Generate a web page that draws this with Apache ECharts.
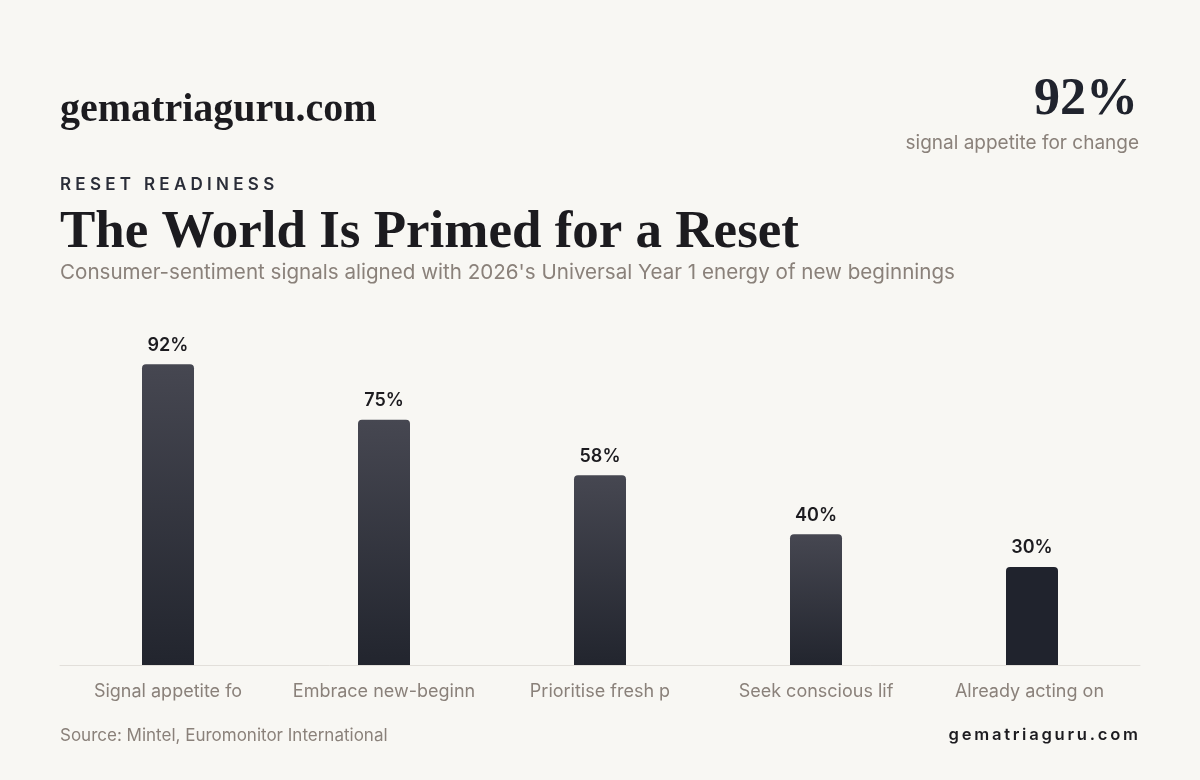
<!DOCTYPE html>
<html>
<head>
<meta charset="utf-8">
<script src="https://cdn.jsdelivr.net/npm/echarts@6/dist/echarts.min.js"></script>
<style>
  html, body { margin: 0; padding: 0; background: #f8f7f3; }
  #chart { width: 1200px; height: 780px; }
</style>
</head>
<body>
<div id="chart"></div>
<script>
// data
var categories = [
  'Signal appetite for change',
  'Embrace new-beginnings mindset',
  'Prioritise fresh perspectives',
  'Seek conscious lifestyle shifts',
  'Already acting on resets'
];
var shares = [92, 75, 58, 40, 30];

var SANS = 'Inter, "Noto Sans", sans-serif';
var SERIF = '"Liberation Serif", "DejaVu Serif", serif';
var MUTED = '#8a817a';
var INK = '#1c1b1f';

// spaced caps, there is no letterSpacing in zrender
function spaced(s, gap) {
  return s.split('').join(gap);
}

var chart = echarts.init(document.getElementById('chart'));

var barData = shares.map(function (v, i) {
  var last = i === shares.length - 1;
  return {
    value: v,
    itemStyle: {
      color: last ? '#20232d' : new echarts.graphic.LinearGradient(0, 0, 0, 1, [
        { offset: 0, color: '#464751' },
        { offset: 1, color: '#22252e' }
      ])
    }
  };
});

chart.setOption({
  backgroundColor: '#f8f7f3',
  animation: false,
  grid: { left: 60, right: 60, top: 338, bottom: 115 },
  xAxis: {
    type: 'category',
    data: categories,
    axisLine: { lineStyle: { color: '#e2dfda', width: 1 } },
    axisTick: { show: false },
    axisLabel: {
      interval: 0,
      hideOverlap: false,
      color: MUTED,
      fontFamily: SANS,
      fontSize: 18,
      margin: 18,
      formatter: function (v) { return v.slice(0, 18); }
    }
  },
  yAxis: {
    type: 'value',
    min: 0,
    max: 100,
    show: false
  },
  series: [{
    type: 'bar',
    data: barData,
    barWidth: 52,
    itemStyle: { borderRadius: [4, 4, 0, 0] },
    label: {
      show: true,
      position: 'top',
      distance: 10,
      formatter: '{c}%',
      color: INK,
      fontFamily: SANS,
      fontWeight: 600,
      fontSize: 18
    }
  }],
  graphic: [
    {
      type: 'text', left: 60, top: 91,
      style: { text: 'gematriaguru.com', font: 'bold 40px ' + SERIF, fill: INK }
    },
    {
      type: 'text', right: 62, top: 75,
      style: { text: '92%', font: 'bold 52px ' + SERIF, fill: '#20232d' }
    },
    {
      type: 'text', right: 61, top: 134,
      style: { text: 'signal appetite for change', font: '19px ' + SANS, fill: MUTED }
    },
    {
      type: 'text', left: 60, top: 176,
      style: { text: spaced('RESET', ' ') + '   ' + spaced('READINESS', ' '), font: '600 17px ' + SANS, fill: '#2a2d38' }
    },
    {
      type: 'text', left: 60, top: 207,
      style: { text: 'The World Is Primed for a Reset', font: 'bold 53px ' + SERIF, fill: INK }
    },
    {
      type: 'text', left: 60, top: 262,
      style: { text: "Consumer-sentiment signals aligned with 2026's Universal Year 1 energy of new beginnings", font: '20.6px ' + SANS, fill: MUTED }
    },
    {
      type: 'text', left: 60, top: 727,
      style: { text: 'Source: Mintel, Euromonitor International', font: '17px ' + SANS, fill: MUTED }
    },
    {
      type: 'text', right: 62, top: 726,
      style: { text: spaced('gematriaguru.com', '\u2009'), font: '600 16.6px ' + SANS, fill: INK }
    }
  ]
});
</script>
</body>
</html>
